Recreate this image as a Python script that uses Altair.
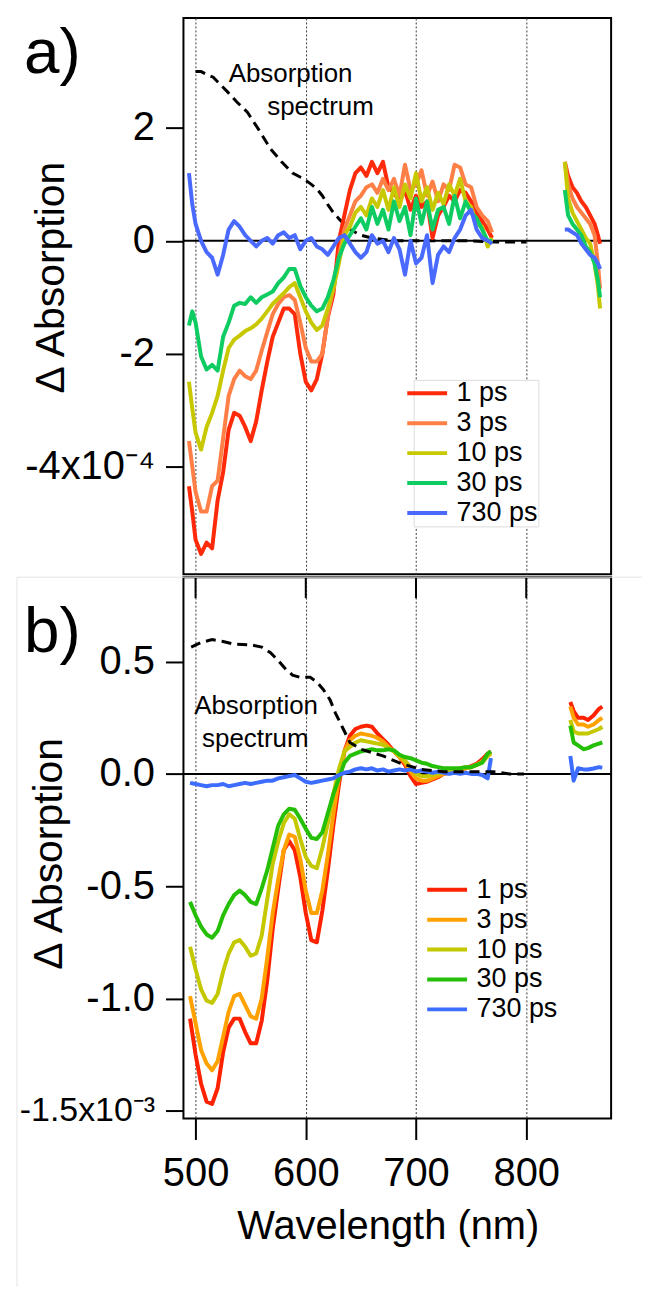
import altair as alt
import pandas as pd

FONT = "Liberation Sans"
SERIES = ["1 ps", "3 ps", "10 ps", "30 ps", "730 ps"]
COLORS_A = ["#ff2a0a", "#ff8047", "#c8c800", "#0fcc62", "#4a6aff"]
COLORS_B = ["#ff2200", "#ffa200", "#c4c800", "#26bf08", "#3d6dff"]
TICKS = [500, 600, 700, 800]
X_DOMAIN = [489, 877]
YA_DOMAIN = [-5.91, 3.95]      # x 1e-4
YB_DOMAIN = [-1.535, 0.876]    # x 1e-3
YA_TICKS = [-4, -2, 0, 2]
YB_TICKS = [-1.5, -1.0, -0.5, 0.0, 0.5]

# ---------------- panel a (units of 1e-4) ----------------
WL_A = [494, 497, 500, 505, 510, 515, 520, 525, 530, 535,
        540, 545, 550, 555, 560, 565, 570, 575, 580, 585,
        590, 595, 600, 605, 610, 615, 620, 625, 630, 635,
        640, 645, 650, 655, 660, 665, 670, 675, 680, 685,
        690, 695, 700, 705, 710, 715, 720, 725, 730, 735,
        740, 745, 750, 755, 760, 765, 769]
A_1PS = [-4.35, -4.8, -5.3, -5.55, -5.35, -5.45, -4.6, -4.1, -3.35, -3.05,
         -3.1, -3.3, -3.55, -3.2, -2.65, -2.15, -1.7, -1.45, -1.2, -1.2,
         -1.3, -2.0, -2.5, -2.65, -2.45, -2.0, -1.35, -0.95, 0.0, 0.45,
         0.9, 1.2, 1.3, 1.15, 1.4, 1.2, 1.4, 0.95, 0.85, 0.7,
         0.9, 0.55, 0.8, 0.6, 0.7, 0.05, 0.45, 0.6, 0.8, 0.7,
         0.9, 0.85, 0.7, 0.5, 0.35, 0.2, 0.05]
A_3PS = [-3.55, -4.0, -4.45, -4.8, -4.8, -4.35, -4.25, -3.5, -2.75, -2.45,
         -2.3, -2.4, -2.45, -2.3, -1.95, -1.62, -1.3, -1.12, -1.0, -0.96,
         -1.05, -1.45, -1.9, -2.14, -2.14, -2.0, -1.35, -0.82, -0.3, 0.2,
         0.45, 0.7, 0.8, 0.95, 1.0, 0.85, 1.1, 0.9, 1.1, 0.8,
         1.35, 0.9, 1.0, 1.25, 0.8, 1.05, 0.7, 1.0, 0.9, 1.35,
         1.3, 1.0, 0.95, 0.6, 0.45, 0.35, 0.15]
A_10PS = [-2.5, -2.97, -3.4, -3.7, -3.3, -3.05, -2.75, -2.3, -1.9, -1.75,
          -1.68, -1.6, -1.55, -1.48, -1.38, -1.25, -1.12, -1.02, -0.93, -0.82,
          -0.75, -1.0, -1.25, -1.45, -1.58, -1.5, -1.2, -0.85, -0.4, 0.1,
          0.25, 0.5, 0.6, 0.45, 0.75, 0.6, 0.9, 0.55, 0.95, 0.6,
          1.0, 0.75, 1.2, 0.7, 0.95, 0.55, 0.85, 0.65, 1.0, 0.8,
          1.1, 0.7, 0.6, 0.3, 0.25, -0.1, 0.05]
A_30PS = [-1.5, -1.25, -1.45, -2.05, -2.28, -2.2, -2.3, -1.7, -1.45, -1.15,
          -1.1, -1.12, -1.0, -1.1, -1.0, -0.95, -0.9, -0.75, -0.65, -0.5,
          -0.5, -0.8, -1.0, -1.15, -1.25, -1.2, -1.0, -0.7, -0.3, -0.05,
          0.1, 0.25, 0.4, 0.2, 0.6, 0.3, 0.55, 0.2, 0.7, 0.35,
          0.6, 0.1, 0.75, 0.3, 0.7, 0.2, 0.55, 0.6, 0.3, 0.8,
          0.4, 0.7, 0.5, 0.4, 0.2, 0.0, 0.0]
A_730PS = [1.2, 0.65, 0.3, 0.0, -0.2, -0.3, -0.6, -0.25, 0.2, 0.35,
           0.25, 0.1, 0.0, -0.1, 0.0, 0.05, -0.05, 0.1, 0.15, 0.05,
           0.1, -0.15, 0.0, 0.05, -0.1, -0.15, -0.25, -0.1, 0.05, 0.1,
           -0.05, -0.2, -0.3, -0.2, 0.1, -0.05, 0.0, -0.2, 0.05, -0.15,
           -0.6, 0.0, -0.4, -0.3, 0.1, -0.75, -0.25, -0.1, -0.2, 0.05,
           0.2, 0.45, 0.55, 0.2, 0.05, 0.0, -0.05]

WL_A2 = [835, 838, 842, 846, 850, 854, 858, 862, 865, 867]
A2_1PS = [1.4, 1.15, 0.95, 0.85, 0.7, 0.6, 0.45, 0.3, 0.1, -0.05]
A2_3PS = [1.4, 1.0, 0.75, 0.6, 0.5, 0.4, 0.3, 0.1, -0.4, -0.85]
A2_10PS = [1.4, 0.75, 0.5, 0.35, 0.2, 0.05, -0.05, -0.4, -0.8, -1.2]
A2_30PS = [0.9, 0.45, 0.3, 0.2, 0.1, -0.1, -0.2, -0.4, -0.7, -1.0]
A2_730PS = [0.2, 0.2, 0.15, 0.1, -0.05, -0.15, -0.25, -0.3, -0.4, -0.5]

ABS_A_WL = [500, 505, 510, 516, 522, 529, 537, 547, 557, 568,
            578, 588, 598, 605, 610, 615, 620, 625, 631, 640,
            650, 660, 680, 700, 750, 770, 800]
ABS_A_VAL = [3.0, 3.0, 2.95, 2.9, 2.78, 2.64, 2.47, 2.28, 1.98, 1.63,
             1.4, 1.2, 1.1, 1.0, 0.92, 0.8, 0.64, 0.5, 0.37, 0.2,
             0.1, 0.05, 0.0, 0.0, 0.0, -0.02, -0.02]
ANN_A_WL = [530, 565]
ANN_A_VAL = [2.81, 2.23]
ANN_TXT = ["Absorption", "spectrum"]

# ---------------- panel b (units of 1e-3) ----------------
WL_B = [495, 500, 505, 510, 515, 520, 525, 530, 535, 540,
        545, 550, 555, 560, 565, 570, 575, 580, 585, 590,
        595, 600, 605, 610, 615, 620, 625, 630, 635, 640,
        645, 650, 655, 660, 665, 670, 675, 680, 685, 690,
        695, 700, 705, 710, 715, 720, 725, 730, 735, 740,
        745, 750, 755, 760, 765, 768]
B_1PS = [-1.09, -1.25, -1.38, -1.46, -1.47, -1.40, -1.24, -1.13, -1.09, -1.09,
         -1.15, -1.20, -1.20, -1.10, -0.92, -0.69, -0.51, -0.34, -0.30, -0.34,
         -0.46, -0.62, -0.74, -0.75, -0.61, -0.43, -0.23, -0.05, 0.10, 0.17,
         0.20, 0.21, 0.215, 0.21, 0.18, 0.155, 0.13, 0.10, 0.075, 0.04,
         -0.01, -0.045, -0.04, -0.035, -0.025, -0.015, 0.0, 0.005, 0.01, 0.02,
         0.025, 0.035, 0.045, 0.065, 0.09, 0.10]
B_3PS = [-0.99, -1.11, -1.23, -1.29, -1.32, -1.28, -1.17, -1.06, -0.99, -0.98,
         -1.03, -1.08, -1.09, -1.0, -0.82, -0.62, -0.47, -0.34, -0.27, -0.28,
         -0.38, -0.52, -0.62, -0.62, -0.52, -0.36, -0.18, -0.02, 0.10, 0.15,
         0.17, 0.18, 0.175, 0.17, 0.16, 0.145, 0.12, 0.10, 0.075, 0.05,
         0.01, -0.02, -0.03, -0.03, -0.02, -0.01, 0.0, 0.005, 0.01, 0.02,
         0.025, 0.03, 0.04, 0.055, 0.08, 0.09]
B_10PS = [-0.77, -0.87, -0.96, -1.01, -1.02, -0.98, -0.88, -0.80, -0.75, -0.74,
          -0.77, -0.81, -0.80, -0.72, -0.56, -0.40, -0.30, -0.22, -0.18, -0.20,
          -0.29, -0.37, -0.41, -0.42, -0.33, -0.22, -0.09, 0.02, 0.10, 0.12,
          0.14, 0.15, 0.145, 0.14, 0.135, 0.13, 0.115, 0.10, 0.08, 0.06,
          0.03, 0.0, -0.01, -0.01, -0.005, 0.0, 0.01, 0.015, 0.02, 0.025,
          0.03, 0.03, 0.04, 0.05, 0.08, 0.09]
B_30PS = [-0.57, -0.63, -0.68, -0.715, -0.73, -0.70, -0.63, -0.58, -0.54, -0.52,
          -0.54, -0.57, -0.58, -0.51, -0.43, -0.33, -0.23, -0.18, -0.155, -0.16,
          -0.20, -0.245, -0.285, -0.29, -0.26, -0.175, -0.09, -0.02, 0.05, 0.08,
          0.09, 0.10, 0.105, 0.11, 0.105, 0.105, 0.11, 0.105, 0.085, 0.075,
          0.07, 0.06, 0.05, 0.045, 0.035, 0.03, 0.025, 0.025, 0.025, 0.025,
          0.03, 0.03, 0.04, 0.05, 0.09, 0.10]
B_730PS = [-0.04, -0.045, -0.05, -0.055, -0.05, -0.05, -0.045, -0.055, -0.05, -0.045,
           -0.04, -0.045, -0.04, -0.035, -0.03, -0.03, -0.02, -0.015, -0.01, -0.005,
           -0.02, -0.035, -0.04, -0.035, -0.03, -0.025, -0.02, -0.005, 0.005, 0.01,
           0.02, 0.025, 0.02, 0.025, 0.015, 0.02, 0.01, 0.015, 0.02, 0.015,
           0.02, 0.01, 0.015, 0.01, 0.005, 0.01, 0.005, 0.0, 0.005, 0.0,
           0.005, 0.0, 0.0, -0.005, -0.02, 0.07]

WL_B2 = [840, 843, 847, 852, 856, 861, 866, 869]
B2_1PS = [0.32, 0.28, 0.25, 0.25, 0.24, 0.26, 0.29, 0.30]
B2_3PS = [0.30, 0.25, 0.22, 0.22, 0.21, 0.22, 0.24, 0.25]
B2_10PS = [0.24, 0.19, 0.18, 0.18, 0.18, 0.19, 0.20, 0.21]
B2_30PS = [0.215, 0.14, 0.127, 0.11, 0.115, 0.127, 0.135, 0.14]
B2_730PS = [0.08, -0.03, 0.025, 0.02, 0.02, 0.024, 0.03, 0.028]

ABS_B_WL = [496, 505, 515, 525, 535, 550, 560, 568, 575, 582,
            588, 595, 604, 610, 616, 622, 627, 633, 640, 650,
            660, 670, 687, 705, 725, 750, 770, 785, 798]
ABS_B_VAL = [0.565, 0.585, 0.598, 0.59, 0.578, 0.575, 0.565, 0.54, 0.505, 0.465,
             0.44, 0.43, 0.43, 0.41, 0.375, 0.33, 0.27, 0.21, 0.14, 0.11,
             0.095, 0.08, 0.045, 0.02, 0.01, 0.01, 0.01, 0.0, 0.0]
ANN_B_WL = [498.7, 505.9]
ANN_B_VAL = [0.265, 0.12]


def spectra_frame(wl_main, main, wl_tail, tail):
    rows = []
    for seg, wl, block in ((0, wl_main, main), (1, wl_tail, tail)):
        for name, vals in zip(SERIES, block):
            if len(vals) != len(wl):
                raise ValueError(f"length mismatch {name} seg {seg}: {len(vals)} vs {len(wl)}")
            for w, v in zip(wl, vals):
                rows.append({"wl": w, "val": v, "series": name, "seg": f"{name}-{seg}"})
    return pd.DataFrame(rows)


df_a = spectra_frame(WL_A, [A_1PS, A_3PS, A_10PS, A_30PS, A_730PS],
                     WL_A2, [A2_1PS, A2_3PS, A2_10PS, A2_30PS, A2_730PS])
df_b = spectra_frame(WL_B, [B_1PS, B_3PS, B_10PS, B_30PS, B_730PS],
                     WL_B2, [B2_1PS, B2_3PS, B2_10PS, B2_30PS, B2_730PS])
abs_a = pd.DataFrame({"wl": ABS_A_WL, "val": ABS_A_VAL})
abs_b = pd.DataFrame({"wl": ABS_B_WL, "val": ABS_B_VAL})
ann_a = pd.DataFrame({"wl": ANN_A_WL, "val": ANN_A_VAL, "t": ANN_TXT})
ann_b = pd.DataFrame({"wl": ANN_B_WL, "val": ANN_B_VAL, "t": ANN_TXT})
zero_df = pd.DataFrame({"val": [0]})
tick_df = pd.DataFrame({"wl": TICKS})

XS = alt.Scale(domain=X_DOMAIN, nice=False, zero=False)
YAS = alt.Scale(domain=YA_DOMAIN, nice=False, zero=False)
YBS = alt.Scale(domain=YB_DOMAIN, nice=False, zero=False)

GRID = dict(grid=True, gridDash=[2, 2], gridColor="#3a3a3a", gridWidth=1, domain=False)
XA_AXIS = alt.Axis(values=TICKS, labels=False, ticks=False, title=None, **GRID)
XB_AXIS = alt.Axis(values=TICKS, labels=True, ticks=True, tickSize=21, tickWidth=2,
                   tickColor="black", labelFont=FONT, labelFontSize=40, labelColor="black",
                   labelPadding=14, labelFlush=False, format="d",
                   title="Wavelength (nm)", titleFont=FONT, titleFontSize=40,
                   titleFontWeight="normal", titleColor="black", titlePadding=13,
                   titleX=205, titleAlign="center", **GRID)

Y_COMMON = dict(grid=False, domain=False, tickSize=18, tickWidth=2, tickColor="black",
                labelFont=FONT, labelColor="black", labelPadding=11, labelFlush=False,
                title="\u0394 Absorption", titleFont=FONT, titleFontSize=41,
                titleFontWeight="normal", titleColor="black", titleAngle=270,
                titleAlign="center", titleBaseline="middle")
YA_AXIS = alt.Axis(values=YA_TICKS, labelFontSize=40,
                   labelExpr="datum.value == -4 ? '-4x10\u207b\u2074' : (datum.value < 0 ? '-' + abs(datum.value) : '' + datum.value)",
                   titleX=-132, titleY=260, **Y_COMMON)
YB_AXIS = alt.Axis(values=YB_TICKS,
                   labelFontSize={"condition": {"test": "datum.value < -1.4", "value": 34}, "value": 40},
                   labelExpr="datum.value < -1.4 ? '-1.5x10\u207b\u00b3' : replace(format(datum.value, '.1f'), '\u2212', '-')",
                   titleX=-134, titleY=277, **Y_COMMON)

# legend key: a 40 px horizontal stroke drawn from a custom path (scaled by sqrt(size)/2)
LEG_COMMON = dict(title=None, orient="none", direction="vertical", symbolType="M-2,0L2,0",
                  symbolSize=400, symbolStrokeWidth=4, labelFont=FONT, labelFontSize=27,
                  labelColor="black", labelOffset=16, rowPadding=2, labelLimit=300,
                  padding=0)
LEG_A = alt.Legend(legendX=231, legendY=363, fillColor="white",
                   strokeColor="#dcdcdc", **LEG_COMMON)
LEG_B = alt.Legend(legendX=251, legendY=300, **LEG_COMMON)


def panel(df, abs_df, ann_df, xs_axis, ys, y_axis, colors, legend, label, label_y,
          dashed_on_top, width, height, extra=None):
    x_enc = alt.X("wl:Q", scale=XS, axis=xs_axis)
    y_enc = alt.Y("val:Q", scale=ys, axis=y_axis)
    zero = alt.Chart(zero_df).mark_rule(color="black", strokeWidth=2).encode(y=y_enc)
    lines = alt.Chart(df).mark_line(strokeWidth=4, strokeJoin="round").encode(
        x=x_enc, y=y_enc,
        color=alt.Color("series:N", scale=alt.Scale(domain=SERIES, range=colors),
                        sort=SERIES, legend=legend),
        detail="seg:N",
    )
    dashed = alt.Chart(abs_df).mark_line(color="black", strokeWidth=3,
                                         strokeDash=[10, 6]).encode(x=x_enc, y=y_enc)
    ann = alt.Chart(ann_df).mark_text(font=FONT, fontSize=26, align="left",
                                      baseline="alphabetic", color="black").encode(
        x=x_enc, y=y_enc, text="t:N")
    lab = alt.Chart(pd.DataFrame({"t": [label]})).mark_text(
        font=FONT, fontSize=64, align="left", baseline="alphabetic", color="black"
    ).encode(text="t:N", x=alt.value(-160), y=alt.value(label_y))
    layers = [zero] + ([lines, dashed] if dashed_on_top else [dashed, lines]) + [ann, lab]
    if extra:
        layers += extra
    return alt.layer(*layers).properties(width=width, height=height)


# ticks of panel a's bottom axis, drawn hanging into panel b
a_ticks = alt.Chart(tick_df).mark_rule(color="black", strokeWidth=2).encode(
    x=alt.X("wl:Q", scale=XS, axis=XB_AXIS), y=alt.value(0), y2=alt.value(21))
one = pd.DataFrame({"k": [0]})
edge_v = alt.Chart(one).mark_rule(color="#e4e4e4", strokeWidth=1).encode(
    x=alt.value(-167), y=alt.value(0), y2=alt.value(712))
edge_h = alt.Chart(one).mark_rule(color="#e4e4e4", strokeWidth=1).encode(
    x=alt.value(-167), x2=alt.value(460), y=alt.value(0))

panel_a = panel(df_a, abs_a, ann_a, XA_AXIS, YAS, YA_AXIS, COLORS_A, LEG_A, "a)", 55,
                False, 429, 558)
panel_b = panel(df_b, abs_b, ann_b, XB_AXIS, YBS, YB_AXIS, COLORS_B, LEG_B, "b)", 75,
                True, 429, 543, extra=[a_ticks, edge_h, edge_v])

chart = (
    alt.vconcat(panel_a, panel_b, spacing=0)
    .resolve_scale(x="independent", y="independent", color="independent")
    .resolve_legend(color="independent")
    .properties(padding={"left": 7, "top": 7, "right": 2, "bottom": 2})
    .configure(font=FONT)
    .configure_view(stroke="black", strokeWidth=2)
)

chart.save("out.html", embed_options={"renderer": "svg", "actions": False})
